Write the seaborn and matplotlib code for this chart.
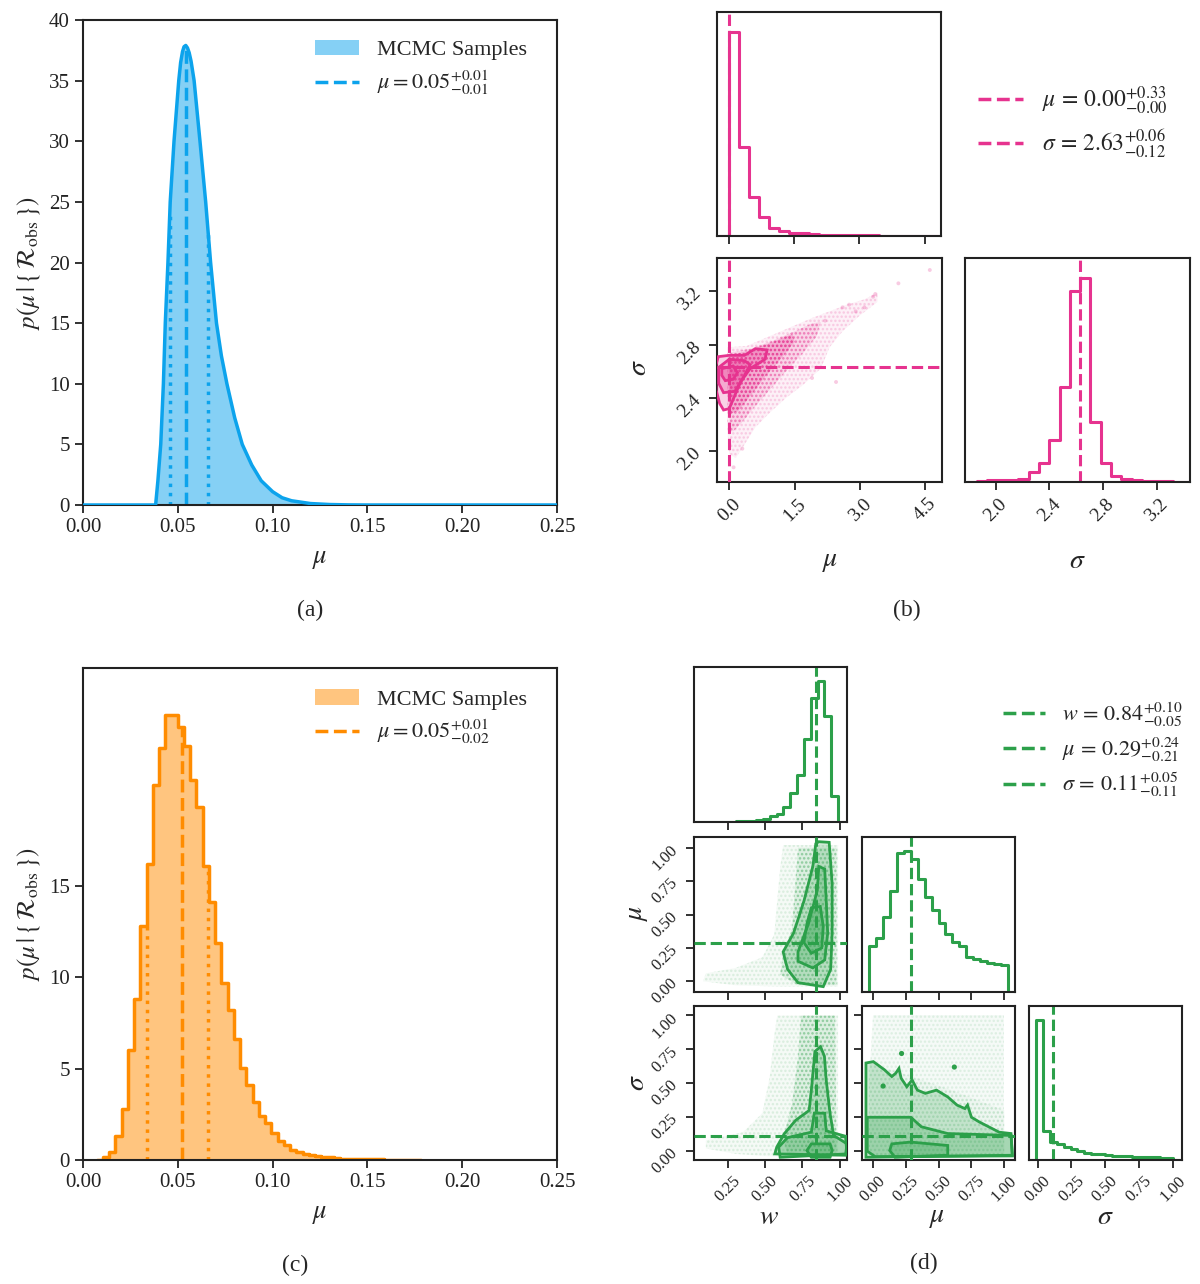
import numpy as np
import matplotlib.pyplot as plt
import seaborn as sns
from matplotlib.patches import Patch, Polygon
from matplotlib.lines import Line2D
from matplotlib.ticker import FormatStrFormatter

# ---------------- data ----------------
# (a) posterior density of mu
a_mu = [0.0, 0.0383, 0.0395, 0.041, 0.0424, 0.0434, 0.0448, 0.046, 0.048, 0.0505,
        0.0515, 0.0525, 0.0533, 0.0542, 0.0551, 0.056, 0.057, 0.0586, 0.0617, 0.0647,
        0.0673, 0.0704, 0.073, 0.0759, 0.080, 0.084, 0.089, 0.094, 0.100, 0.105,
        0.110, 0.120, 0.130, 0.140, 0.150, 0.25]
a_dens = [0, 0, 2, 5, 10, 15, 20, 25, 30, 35,
          36.5, 37.4, 37.8, 37.9, 37.7, 37.3, 36.6, 35, 30, 25,
          20, 15, 12.3, 10, 7.2, 5, 3.3, 2, 1.1, 0.6,
          0.35, 0.12, 0.04, 0.01, 0, 0]
a_median, a_lo, a_hi = 0.0542, 0.0458, 0.0659

# (c) histogram of mu samples (density per bin)
c_range = (0.0105, 0.175)
c_heights = [0.15, 0.46, 1.33, 2.77, 6.02, 8.8, 12.77, 16.2, 20.5, 22.5,
             24.35, 24.35, 23.7, 22.66, 20.8, 19.3, 16.05, 14.1, 11.86, 9.67,
             8.18, 6.62, 5.02, 4.1, 3.19, 2.41, 2.0, 1.5, 1.06, 0.82,
             0.55, 0.42, 0.31, 0.26, 0.22, 0.18, 0.14, 0.11, 0.08, 0.06,
             0.05, 0.04, 0.04, 0.03, 0.03, 0.02, 0.02, 0.02, 0.01, 0.01]
c_median, c_lo, c_hi = 0.0523, 0.0335, 0.0659

# (b) corner plot (mu, sigma)
b_mu_range = (0.0, 4.6)
b_mu_hist = [611, 268, 118, 58, 23, 16, 10, 8, 5, 3, 3, 2, 2, 2, 2, 1, 1, 1, 1, 1]
b_sig_range = (1.86, 3.40)
b_sig_hist = [4, 5, 5, 7, 9, 29, 57, 127, 285, 575, 612, 180, 57, 17, 9, 5, 3, 2, 2, 1]
b_median = (0.00, 2.63)
b_cloud = [
    [(-0.05, 2.78), (0.4, 2.79), (0.9, 2.86), (1.4, 2.93), (1.9, 3.0), (2.3, 3.05),
     (2.7, 3.1), (3.1, 3.14), (3.4, 3.19), (3.4, 3.12), (3.0, 3.02), (2.6, 2.9),
     (2.3, 2.78), (2.1, 2.62), (1.7, 2.5), (1.3, 2.40), (0.9, 2.28), (0.6, 2.18),
     (0.35, 2.05), (0.15, 1.95), (0.0, 1.98), (-0.05, 2.2)],
    [(0.0, 2.74), (0.5, 2.77), (1.0, 2.83), (1.5, 2.9), (1.9, 2.96), (2.1, 2.97),
     (2.0, 2.86), (1.7, 2.74), (1.3, 2.6), (0.9, 2.45), (0.55, 2.32), (0.3, 2.22),
     (0.1, 2.15), (0.0, 2.15)],
    [(0.0, 2.72), (0.5, 2.76), (1.0, 2.82), (1.45, 2.88), (1.5, 2.82), (1.2, 2.7),
     (0.8, 2.55), (0.45, 2.40), (0.2, 2.30), (0.0, 2.28)],
]
b_outliers_mu = [4.6, 3.88, 3.35, 3.3, 2.75, 2.6, 2.45, 2.2, 0.3, 0.1, 1.9, 3.1, 2.9]
b_outliers_sig = [3.36, 3.26, 3.18, 3.16, 3.1, 3.08, 2.52, 2.98, 2.02, 1.88, 2.55, 3.08, 3.05]
b_contours = [
    [(-0.3, 2.65), (-0.25, 2.71), (0.0, 2.72), (0.35, 2.72), (0.6, 2.77), (0.87, 2.76),
     (0.82, 2.69), (0.48, 2.62), (0.26, 2.52), (0.09, 2.39), (0.0, 2.32), (-0.13, 2.31),
     (-0.22, 2.36), (-0.3, 2.46)],
    [(-0.24, 2.63), (0.0, 2.69), (0.35, 2.68), (0.48, 2.65), (0.3, 2.54), (0.13, 2.45),
     (-0.13, 2.44), (-0.24, 2.51)],
    [(-0.17, 2.62), (0.09, 2.64), (0.19, 2.59), (0.09, 2.54), (-0.09, 2.53), (-0.17, 2.57)],
]

# (d) corner plot (w, mu, sigma)
d_w_range = (0.07, 0.99)
d_w_hist = [1, 1, 1, 1, 1, 2, 2, 3, 5, 10, 17, 25, 45, 87, 142, 250, 370, 422, 317, 78]
d_mu_range = (-0.03, 1.03)
d_mu_hist = [138, 163, 225, 305, 418, 425, 400, 342, 288, 247, 207, 175, 152, 138, 107,
             100, 93, 88, 83, 80]
d_sig_range = (-0.011, 1.005)
d_sig_hist = [420, 87, 55, 48, 40, 32, 27, 22, 19, 17, 15, 13, 12, 11, 10, 9, 8, 8, 7, 7]
d_median = (0.84, 0.29, 0.11)

d_cloud_wmu = [
    [(0.62, 1.02), (0.99, 1.02), (0.99, -0.04), (0.6, -0.04), (0.3, -0.03), (0.08, 0.0),
     (0.1, 0.06), (0.3, 0.1), (0.48, 0.18), (0.56, 0.35), (0.58, 0.6), (0.6, 0.85)],
    [(0.72, 1.0), (0.98, 1.0), (0.98, -0.03), (0.72, -0.03), (0.6, 0.05), (0.62, 0.2),
     (0.68, 0.4), (0.7, 0.7)],
]
d_cont_wmu = [
    [(0.84, 1.03), (0.86, 1.045), (0.93, 1.04), (0.95, 0.73), (0.95, 0.36), (0.94, 0.09),
     (0.89, -0.04), (0.72, -0.01), (0.65, 0.09), (0.62, 0.22), (0.69, 0.36), (0.76, 0.6),
     (0.82, 0.86)],
    [(0.86, 0.86), (0.9, 0.84), (0.91, 0.61), (0.92, 0.36), (0.9, 0.16), (0.82, 0.1),
     (0.72, 0.15), (0.72, 0.22), (0.79, 0.43), (0.85, 0.68)],
    [(0.81, 0.55), (0.87, 0.56), (0.89, 0.41), (0.88, 0.25), (0.81, 0.21), (0.76, 0.29),
     (0.78, 0.43)],
]
d_cloud_wsig = [
    [(0.58, 1.0), (0.99, 1.0), (0.99, -0.04), (0.55, -0.04), (0.3, -0.02), (0.1, 0.02),
     (0.1, 0.08), (0.35, 0.14), (0.48, 0.28), (0.53, 0.55), (0.56, 0.85)],
    [(0.74, 1.0), (0.97, 1.0), (0.98, -0.03), (0.65, -0.03), (0.62, 0.1), (0.68, 0.35),
     (0.72, 0.7)],
]
d_cont_wsig = [
    [(0.872, 0.77), (0.834, 0.735), (0.81, 0.45), (0.795, 0.30), (0.705, 0.228),
     (0.628, 0.129), (0.577, 0.03), (0.564, -0.02), (1.04, -0.03), (1.05, 0.054),
     (0.96, 0.116), (0.936, 0.277), (0.91, 0.525), (0.898, 0.70)],
    [(0.83, 0.28), (0.9, 0.28), (0.91, 0.15), (1.04, 0.11), (1.05, -0.02), (0.6, -0.045),
     (0.59, 0.03), (0.65, 0.1), (0.81, 0.14)],
    [(0.78, 0.005), (0.81, 0.054), (0.936, 0.054), (0.95, 0.005), (0.936, -0.045),
     (0.81, -0.045)],
]
d_cloud_musig = [
    [(0.0, 1.0), (1.0, 1.0), (1.0, -0.04), (-0.03, -0.04), (-0.03, 0.5)],
    [(-0.03, 0.65), (0.3, 0.55), (0.6, 0.45), (1.0, 0.3), (1.0, -0.04), (-0.03, -0.04)],
]
d_cont_musig = [
    [(-0.05, 0.65), (0.006, 0.66), (0.09, 0.6), (0.146, 0.55), (0.175, 0.574), (0.2, 0.61),
     (0.217, 0.537), (0.26, 0.475), (0.30, 0.525), (0.34, 0.45), (0.4, 0.426),
     (0.485, 0.45), (0.57, 0.40), (0.64, 0.34), (0.70, 0.314), (0.72, 0.34), (0.75, 0.25),
     (0.81, 0.215), (0.88, 0.18), (0.96, 0.14), (1.05, 0.13), (1.06, -0.03),
     (-0.05, -0.045)],
    [(-0.04, 0.25), (0.29, 0.25), (0.37, 0.18), (0.57, 0.13), (1.05, 0.116), (1.06, -0.035),
     (0.02, -0.04), (-0.04, 0.0)],
    [(0.13, 0.005), (0.146, 0.054), (0.29, 0.067), (0.57, 0.042), (0.57, -0.03),
     (0.17, -0.045)],
]
d_islands_mu = [0.08, 0.62, 0.22]
d_islands_sig = [0.48, 0.62, 0.72]

# ---------------- style ----------------
sns.set_theme(style='ticks')
plt.rcParams['font.family'] = ['Liberation Serif', 'DejaVu Serif']
plt.rcParams['mathtext.fontset'] = 'stix'
plt.rcParams['hatch.linewidth'] = 1.2

BLUE = '#0ca3ec'
ORANGE = '#ff8c00'
PINK = '#e6338f'
GREEN = '#2ca04a'
DARK = '#222222'

W, H = 1200, 1284
fig = plt.figure(figsize=(W / 100, H / 100), dpi=100)
fig.patch.set_facecolor('white')


def add_ax(x0, y0, x1, y1):
    return fig.add_axes([x0 / W, 1 - y1 / H, (x1 - x0) / W, (y1 - y0) / H])


def style(ax, size=13):
    for s in ax.spines.values():
        s.set_linewidth(1.5)
        s.set_color(DARK)
    ax.tick_params(direction='out', length=6, width=1.3, colors=DARK, labelsize=size)
    ax.set_xlabel('')
    ax.set_ylabel('')


def step_hist(ax, lo, hi, heights, color, lw=2.0, fill=False, alpha=1.0):
    n = len(heights)
    edges = np.linspace(lo, hi, n + 1)
    width = edges[1] - edges[0]
    edges = np.concatenate([[lo - width], edges, [hi + width]])
    h = np.concatenate([[0], heights, [0]])
    centers = (edges[:-1] + edges[1:]) / 2
    sns.histplot(x=centers, weights=h, bins=list(edges), element='step', fill=fill,
                 color=color, linewidth=lw, alpha=alpha, ax=ax)


def draw_cloud(ax, layers, color, alphas):
    # sample clouds: light tint with a fine dotted texture
    for poly, a in zip(layers, alphas):
        ax.add_patch(Polygon(poly, closed=True, facecolor=color, alpha=a * 0.6,
                             edgecolor='none', zorder=1))
        ax.add_patch(Polygon(poly, closed=True, facecolor='none', edgecolor=color,
                             alpha=min(1.0, a * 1.6), hatch='....', lw=0, zorder=1))


def draw_contours(ax, polys, color, alphas=(0.22, 0.25, 0.28)):
    for poly, a in zip(polys, alphas):
        ax.add_patch(Polygon(poly, closed=True, facecolor=color, alpha=a,
                             edgecolor='none', zorder=2))
        ax.add_patch(Polygon(poly, closed=True, facecolor='none', edgecolor=color,
                             lw=2, zorder=3))


# ---------------- (a) ----------------
ax_a = add_ax(83, 20, 557, 505)
sns.lineplot(x=a_mu, y=a_dens, color=BLUE, lw=2.5, ax=ax_a, zorder=3)
ax_a.fill_between(a_mu, a_dens, color=BLUE, alpha=0.5, lw=0, zorder=2)
ax_a.plot([a_median] * 2, [0, np.interp(a_median, a_mu, a_dens)], color=BLUE, ls='--', lw=2.5)
for v in (a_lo, a_hi):
    ax_a.plot([v] * 2, [0, np.interp(v, a_mu, a_dens)], color=BLUE, ls=':', lw=2.5)
ax_a.set_xlim(0, 0.25)
ax_a.set_ylim(0, 40)
ax_a.set_xticks(np.arange(0, 0.26, 0.05))
ax_a.set_yticks(np.arange(0, 41, 5))
ax_a.xaxis.set_major_formatter(FormatStrFormatter('%.2f'))
style(ax_a, 15)
ax_a.legend(handles=[Patch(facecolor=BLUE, alpha=0.5, edgecolor='none', label='MCMC Samples'),
                     Line2D([], [], color=BLUE, ls='--', lw=2.5,
                            label=r'$\mu=0.05^{+0.01}_{-0.01}$')],
            loc='upper right', bbox_to_anchor=(0.96, 0.982), frameon=False, fontsize=16,
            borderpad=0, handlelength=2.0, handletextpad=0.8, labelspacing=0.38)

# ---------------- (c) ----------------
ax_c = add_ax(83, 668, 557, 1160)
step_hist(ax_c, *c_range, c_heights, ORANGE, lw=0, fill=True, alpha=0.5)
step_hist(ax_c, *c_range, c_heights, ORANGE, lw=2.5)
c_width = (c_range[1] - c_range[0]) / len(c_heights)
for v, ls in ((c_median, '--'), (c_lo, ':'), (c_hi, ':')):
    ax_c.plot([v] * 2, [0, c_heights[int((v - c_range[0]) / c_width)]], color=ORANGE, ls=ls, lw=2.5)
ax_c.set_xlim(0, 0.25)
ax_c.set_ylim(0, 26.9)
ax_c.set_xticks(np.arange(0, 0.26, 0.05))
ax_c.set_yticks([0, 5, 10, 15])
ax_c.xaxis.set_major_formatter(FormatStrFormatter('%.2f'))
style(ax_c, 15)
ax_c.legend(handles=[Patch(facecolor=ORANGE, alpha=0.5, edgecolor='none', label='MCMC Samples'),
                     Line2D([], [], color=ORANGE, ls='--', lw=2.5,
                            label=r'$\mu=0.05^{+0.01}_{-0.02}$')],
            loc='upper right', bbox_to_anchor=(0.96, 0.98), frameon=False, fontsize=16,
            borderpad=0, handlelength=2.0, handletextpad=0.8, labelspacing=0.38)

ylab = r'$p(\mu\,|\,\{\,\mathcal{R}_{\rm obs}\,\})$'
for yc in (263, 914):
    fig.text(29 / W, 1 - yc / H, ylab, rotation=90, ha='center', va='center', fontsize=18)
fig.text(320 / W, 1 - 560 / H, r'$\mu$', ha='center', va='center', fontsize=19)
fig.text(320 / W, 1 - 1215 / H, r'$\mu$', ha='center', va='center', fontsize=19)

# ---------------- (b) ----------------
b_mu_lim = (-0.28, 4.88)
b_sig_lim = (1.77, 3.45)
b_top = add_ax(717, 12, 941, 236)
b_sc = add_ax(717, 258, 942, 482)
b_sig = add_ax(965, 258, 1190, 482)

step_hist(b_top, *b_mu_range, b_mu_hist, PINK, lw=2.2)
b_top.axvline(b_median[0], color=PINK, ls='--', lw=2.2)
b_top.set_xlim(*b_mu_lim)
b_top.set_ylim(0, 1.1 * max(b_mu_hist))
b_top.set_xticks([0, 1.5, 3.0, 4.5])
b_top.set_xticklabels([])
b_top.set_yticks([])
style(b_top)

draw_cloud(b_sc, b_cloud, PINK, (0.12, 0.25, 0.4))
sns.scatterplot(x=b_outliers_mu, y=b_outliers_sig, color=PINK, s=8, alpha=0.25,
                edgecolor='none', ax=b_sc)
draw_contours(b_sc, b_contours, PINK)
b_sc.axvline(b_median[0], color=PINK, ls='--', lw=2.2, zorder=4)
b_sc.axhline(b_median[1], color=PINK, ls='--', lw=2.2, zorder=4)
b_sc.set_xlim(*b_mu_lim)
b_sc.set_ylim(*b_sig_lim)
b_sc.set_xticks([0, 1.5, 3.0, 4.5])
b_sc.set_yticks([2.0, 2.4, 2.8, 3.2])
b_sc.xaxis.set_major_formatter(FormatStrFormatter('%.1f'))
b_sc.yaxis.set_major_formatter(FormatStrFormatter('%.1f'))
style(b_sc, 14)
b_sc.tick_params(axis='x', labelrotation=45)
b_sc.tick_params(axis='y', labelrotation=45)

step_hist(b_sig, *b_sig_range, b_sig_hist, PINK, lw=2.2)
b_sig.axvline(b_median[1], color=PINK, ls='--', lw=2.2)
b_sig.set_xlim(*b_sig_lim)
b_sig.set_ylim(0, 1.1 * max(b_sig_hist))
b_sig.set_xticks([2.0, 2.4, 2.8, 3.2])
b_sig.xaxis.set_major_formatter(FormatStrFormatter('%.1f'))
b_sig.set_yticks([])
style(b_sig, 14)
b_sig.tick_params(axis='x', labelrotation=45)

fig.text(830 / W, 1 - 562 / H, r'$\mu$', ha='center', va='center', fontsize=20)
fig.text(1077 / W, 1 - 562 / H, r'$\sigma$', ha='center', va='center', fontsize=20)
fig.text(639 / W, 1 - 368 / H, r'$\sigma$', rotation=90, ha='center', va='center', fontsize=20)
fig.legend(handles=[Line2D([], [], color=PINK, ls='--', lw=2.5)] * 2,
           labels=[r'$\mu\,=\,0.00^{+0.33}_{-0.00}$', r'$\sigma\,=\,2.63^{+0.06}_{-0.12}$'],
           loc='center left', bbox_to_anchor=(978 / W, 1 - 122 / H), frameon=False,
           fontsize=17, borderpad=0, borderaxespad=0, handlelength=1.9,
           handletextpad=0.8, labelspacing=0.45)

# ---------------- (d) ----------------
w_lim = (0.02, 1.05)
mu_lim = (-0.08, 1.08)
sig_lim = (-0.065, 1.07)
cols = [(694, 847), (862, 1015), (1029, 1182)]
rows = [(667, 822), (837, 992), (1006, 1160)]
d11 = add_ax(cols[0][0], rows[0][0], cols[0][1], rows[0][1])
d21 = add_ax(cols[0][0], rows[1][0], cols[0][1], rows[1][1])
d22 = add_ax(cols[1][0], rows[1][0], cols[1][1], rows[1][1])
d31 = add_ax(cols[0][0], rows[2][0], cols[0][1], rows[2][1])
d32 = add_ax(cols[1][0], rows[2][0], cols[1][1], rows[2][1])
d33 = add_ax(cols[2][0], rows[2][0], cols[2][1], rows[2][1])

w_ticks = [0.25, 0.5, 0.75, 1.0]
u_ticks = [0.0, 0.25, 0.5, 0.75, 1.0]

for ax, rng, hist, med, lim, ticks in ((d11, d_w_range, d_w_hist, d_median[0], w_lim, w_ticks),
                                       (d22, d_mu_range, d_mu_hist, d_median[1], mu_lim, u_ticks),
                                       (d33, d_sig_range, d_sig_hist, d_median[2], sig_lim, u_ticks)):
    step_hist(ax, *rng, hist, GREEN, lw=2.2)
    ax.axvline(med, color=GREEN, ls='--', lw=2.2)
    ax.set_xlim(*lim)
    ax.set_ylim(0, 1.1 * max(hist))
    ax.set_xticks(ticks)
    ax.set_yticks([])
    style(ax, 12)
d11.set_xticklabels([])
d22.set_xticklabels([])

draw_cloud(d21, d_cloud_wmu, GREEN, (0.08, 0.2))
draw_contours(d21, d_cont_wmu, GREEN)
d21.axvline(d_median[0], color=GREEN, ls='--', lw=2.2, zorder=4)
d21.axhline(d_median[1], color=GREEN, ls='--', lw=2.2, zorder=4)
d21.set_xlim(*w_lim)
d21.set_ylim(*mu_lim)
d21.set_xticks(w_ticks)
d21.set_yticks(u_ticks)

draw_cloud(d31, d_cloud_wsig, GREEN, (0.08, 0.2))
draw_contours(d31, d_cont_wsig, GREEN)
d31.axvline(d_median[0], color=GREEN, ls='--', lw=2.2, zorder=4)
d31.axhline(d_median[2], color=GREEN, ls='--', lw=2.2, zorder=4)
d31.set_xlim(*w_lim)
d31.set_ylim(*sig_lim)
d31.set_xticks(w_ticks)
d31.set_yticks(u_ticks)

draw_cloud(d32, d_cloud_musig, GREEN, (0.07, 0.06))
draw_contours(d32, d_cont_musig, GREEN)
sns.scatterplot(x=d_islands_mu, y=d_islands_sig, color=GREEN, s=14, edgecolor='none', ax=d32, zorder=3)
d32.axvline(d_median[1], color=GREEN, ls='--', lw=2.2, zorder=4)
d32.axhline(d_median[2], color=GREEN, ls='--', lw=2.2, zorder=4)
d32.set_xlim(*mu_lim)
d32.set_ylim(*sig_lim)
d32.set_xticks(u_ticks)
d32.set_yticks(u_ticks)

for ax in (d21, d31, d32, d33):
    ax.xaxis.set_major_formatter(FormatStrFormatter('%.2f'))
    ax.yaxis.set_major_formatter(FormatStrFormatter('%.2f'))
    style(ax, 12)
    ax.tick_params(axis='x', labelrotation=45)
    ax.tick_params(axis='y', labelrotation=45)
d21.tick_params(axis='x', labelbottom=False)
d32.tick_params(axis='y', labelleft=False)

fig.text(769 / W, 1 - 1217 / H, r'$w$', ha='center', va='center', fontsize=20)
fig.text(937 / W, 1 - 1217 / H, r'$\mu$', ha='center', va='center', fontsize=20)
fig.text(1105 / W, 1 - 1217 / H, r'$\sigma$', ha='center', va='center', fontsize=20)
fig.text(637 / W, 1 - 913 / H, r'$\mu$', rotation=90, ha='center', va='center', fontsize=20)
fig.text(637 / W, 1 - 1083 / H, r'$\sigma$', rotation=90, ha='center', va='center', fontsize=20)
fig.legend(handles=[Line2D([], [], color=GREEN, ls='--', lw=2.5)] * 3,
           labels=[r'$w\,=\,0.84^{+0.10}_{-0.05}$', r'$\mu\,=\,0.29^{+0.24}_{-0.21}$',
                   r'$\sigma\,=\,0.11^{+0.05}_{-0.11}$'],
           loc='center left', bbox_to_anchor=(1003 / W, 1 - 750 / H), frameon=False,
           fontsize=16, borderpad=0, borderaxespad=0, handlelength=1.9,
           handletextpad=0.75, labelspacing=0.3)

# ---------------- captions ----------------
for txt, x, y in (('(a)', 310, 610), ('(b)', 907, 610), ('(c)', 295, 1265), ('(d)', 924, 1263)):
    fig.text(x / W, 1 - y / H, txt, ha='center', va='center', fontsize=17)

fig.savefig('out.png', dpi=100, facecolor='white')
